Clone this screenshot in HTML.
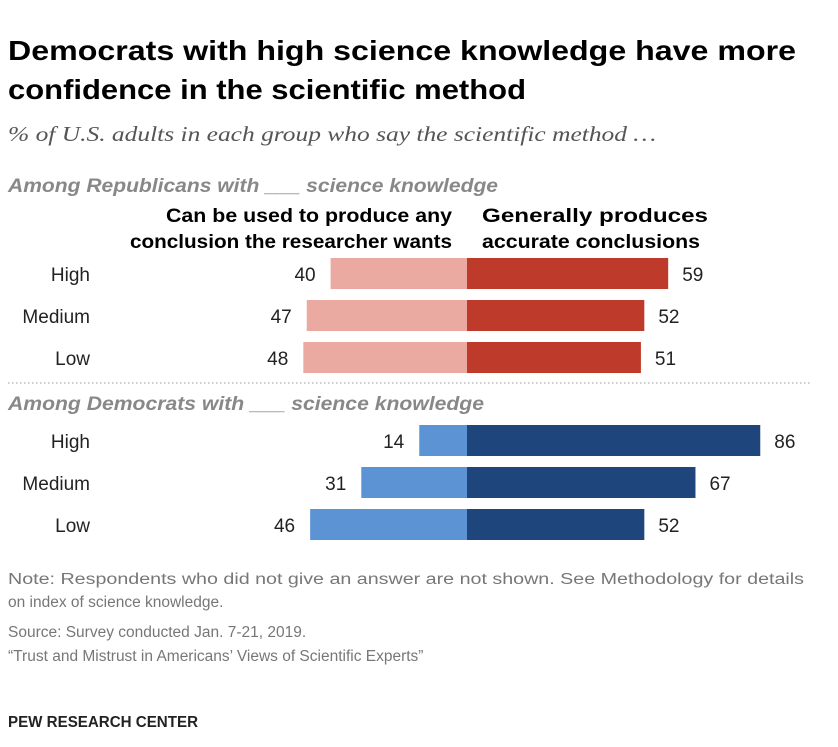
<!DOCTYPE html>
<html><head><meta charset="utf-8"><style>
body{margin:0;background:#fff;}
svg text{font-family:"Liberation Sans",sans-serif;}
</style></head><body>
<svg width="838" height="742" viewBox="0 0 838 742">
<text x="8" y="60" font-size="28" font-weight="bold" fill="#000" textLength="788" lengthAdjust="spacingAndGlyphs">Democrats with high science knowledge have more</text>
<text x="8" y="99" font-size="28" font-weight="bold" fill="#000" textLength="518" lengthAdjust="spacingAndGlyphs">confidence in the scientific method</text>
<text x="8" y="141" font-size="21" font-style="italic" fill="#555" style="font-family:'Liberation Serif',serif" textLength="648" lengthAdjust="spacingAndGlyphs">% of U.S. adults in each group who say the scientific method …</text>
<text x="8" y="192" font-size="19" font-weight="bold" font-style="italic" fill="#888" textLength="490" lengthAdjust="spacingAndGlyphs">Among Republicans with ___ science knowledge</text>
<text x="452" y="222" font-size="19" font-weight="bold" text-anchor="end" textLength="286" lengthAdjust="spacingAndGlyphs">Can be used to produce any</text>
<text x="452" y="248" font-size="19" font-weight="bold" text-anchor="end" textLength="322" lengthAdjust="spacingAndGlyphs">conclusion the researcher wants</text>
<text x="482" y="222" font-size="19" font-weight="bold" textLength="226" lengthAdjust="spacingAndGlyphs">Generally produces</text>
<text x="482" y="248" font-size="19" font-weight="bold" textLength="218" lengthAdjust="spacingAndGlyphs">accurate conclusions</text>
<line x1="8" y1="383" x2="810" y2="383" stroke="#999" stroke-dasharray="1.5,2.5"/>
<text x="8" y="410" font-size="19" font-weight="bold" font-style="italic" fill="#888" textLength="476" lengthAdjust="spacingAndGlyphs">Among Democrats with ___ science knowledge</text>
<g id="bars"></g>
<g font-size="15.5" fill="#777">
<text x="8" y="584" textLength="796" lengthAdjust="spacingAndGlyphs">Note: Respondents who did not give an answer are not shown. See Methodology for details</text>
<text x="8" y="607">on index of science knowledge.</text>
<text x="8" y="637">Source: Survey conducted Jan. 7-21, 2019.</text>
<text x="8" y="661">“Trust and Mistrust in Americans’ Views of Scientific Experts”</text>
</g>
<text x="8" y="727" font-size="16" font-weight="bold" fill="#222" textLength="190" lengthAdjust="spacingAndGlyphs">PEW RESEARCH CENTER</text>
</svg>
<script>
const groups = ["Republican","Republican","Republican","Democrat","Democrat","Democrat"];
const categories = ["High","Medium","Low","High","Medium","Low"];
const anyConclusion = [40,47,48,14,31,46];
const accurate = [59,52,51,86,67,52];
const rowTops = [258,300,342,425,467,509];
const cx = 467, scale = 3.41, bh = 31;
const ns = "http://www.w3.org/2000/svg";
const g = document.getElementById('bars');
function x(v){return v*scale;}
function mk(tag, attrs){const e=document.createElementNS(ns,tag);for(const k in attrs)e.setAttribute(k,attrs[k]);g.appendChild(e);return e;}
for(let i=0;i<categories.length;i++){
  const rep = groups[i]==="Republican";
  const y = rowTops[i];
  const l = mk('rect',{x:cx-x(anyConclusion[i]),y:y,width:x(anyConclusion[i]),height:bh,fill:rep?'#eaaaa1':'#5b93d4'});
  
  
  const r = mk('rect',{x:cx,y:y,width:x(accurate[i]),height:bh,fill:rep?'#be3a2a':'#1f467c'});
  
  
  const c = mk('text',{x:90,y:y+23,'font-size':19,'text-anchor':'end',fill:'#222'});
  c.textContent = categories[i];
  
  
  const lv = mk('text',{x:cx-x(anyConclusion[i])-15,y:y+23,'font-size':19,'text-anchor':'end',fill:'#222'});
  lv.textContent = anyConclusion[i];
  
  
  const rv = mk('text',{x:cx+x(accurate[i])+14,y:y+23,'font-size':19,fill:'#222'});
  rv.textContent = accurate[i];
  
  
}
</script>
</body></html>
